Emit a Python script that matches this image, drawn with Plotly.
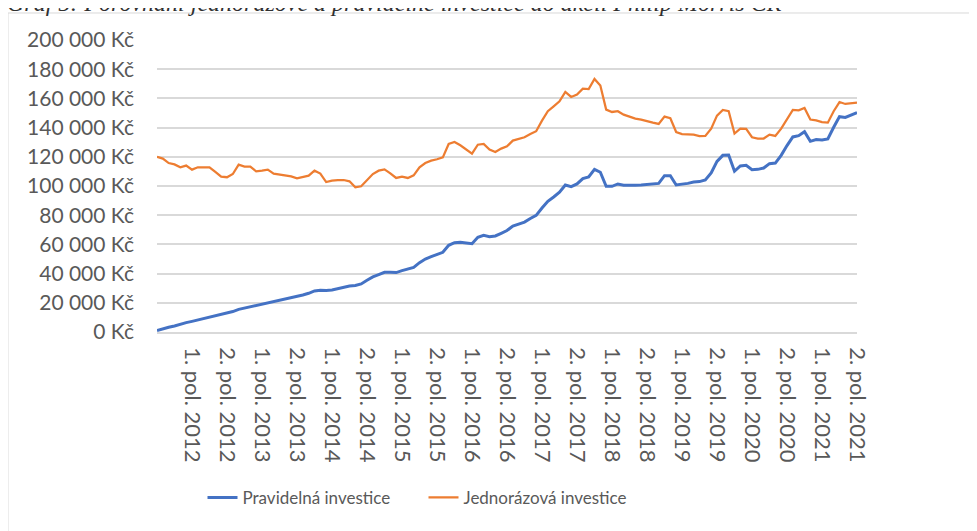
import plotly.graph_objects as go

# Half-year labels shown on the x axis (every 6th monthly point)
pololeti = [f"{h}. pol. {y}" for y in range(2012, 2022) for h in (1, 2)]

# Monthly portfolio value, Kč
pravidelna = [
    1000, 2300, 3200, 4100, 5500, 6400, 7300, 8200, 9400, 10300,
    11200, 11900, 12600, 14000, 15500, 16400, 17100, 18000, 19000, 19900,
    20500, 21500, 22400, 23300, 24000, 25300, 26500, 28100, 28600, 28400,
    28800, 29700, 30600, 31500, 31800, 32900, 35400, 37700, 39300, 40900,
    40900, 40700, 42000, 42900, 44300, 47500, 50000, 51600, 53000, 54600,
    59400, 61200, 61400, 60800, 60500, 64900, 66200, 65300, 65800, 67600,
    69500, 72600, 74000, 75300, 77700, 79900, 84900, 89500, 92500, 95700,
    100700, 99600, 101400, 105100, 106200, 111400, 109400, 99800, 99800, 101400,
    100500, 100300, 100500, 100700, 101200, 101400, 101800, 107100, 107100, 100700,
    101000, 101800, 102700, 103000, 104100, 108900, 116900, 121000, 121200, 110100,
    113700, 114200, 111200, 111400, 112300, 115300, 115700, 121000, 127700, 133600,
    134500, 137200, 130600, 131800, 131500, 132200, 140200, 147500, 147000, 148400,
    150300,
]

jednorazova = [
    120000, 118800, 115700, 114800, 112800, 114000, 111200, 112800, 112800, 112800,
    109600, 106400, 106000, 108200, 114600, 113300, 113300, 110000, 110500, 111200,
    108500, 107800, 107100, 106600, 105300, 106200, 107100, 110500, 108500, 102700,
    103700, 104100, 104100, 103200, 99100, 99800, 104100, 108200, 110500, 111400,
    108700, 105500, 106400, 105500, 107300, 112800, 115700, 117400, 118300, 119600,
    128800, 130100, 127900, 124900, 122200, 128300, 128800, 124900, 123300, 125600,
    127200, 131100, 132000, 133400, 135600, 137500, 144800, 151200, 154600, 158000,
    164400, 161000, 162600, 166700, 166400, 173300, 168800, 152300, 150700, 151200,
    148900, 147300, 146200, 145500, 144300, 143400, 142500, 147500, 146400, 137000,
    135600, 135200, 135200, 134200, 134300, 139300, 148200, 152100, 151200, 135900,
    139300, 139100, 133400, 132500, 132500, 135200, 134300, 139300, 146200, 152100,
    151800, 153400, 145500, 145000, 143800, 143400, 151200, 157500, 156200, 156600,
    157100,
]

y_ticks = list(range(0, 200001, 20000))
y_labels = [f"{v:,}".replace(",", " ") + " Kč" for v in y_ticks]

mesice = list(range(len(pravidelna)))
x_ticks = [6 * (i + 1) for i in range(len(pololeti))]

FONT = "Lato"
GREY = "#595959"

fig = go.Figure()

fig.add_trace(go.Scatter(
    x=mesice, y=pravidelna, mode="lines", name="Pravidelná investice",
    line=dict(color="#4472C4", width=3),
))
fig.add_trace(go.Scatter(
    x=mesice, y=jednorazova, mode="lines", name="Jednorázová investice",
    line=dict(color="#ED7D31", width=2.25),
))

# page has a ~7px body margin, so the figure is a bit smaller than the window
fig.update_layout(
    width=970, height=524,
    margin=dict(l=149, r=121, t=32, b=200, autoexpand=False),
    paper_bgcolor="white", plot_bgcolor="white",
    font=dict(family=FONT, color=GREY, size=18),
    showlegend=True,
    legend=dict(
        orientation="h", x=0.065, xanchor="left", y=-0.568, yanchor="middle",
        font=dict(size=17, color=GREY), entrywidth=176,
    ),
    xaxis=dict(
        range=[0, len(mesice) - 1], tickvals=x_ticks, ticktext=pololeti,
        tickangle=90, showgrid=False, zeroline=False, automargin=False,
        showline=True, linecolor="#d9d9d9", linewidth=1.5,
        ticks="", ticklabelstandoff=9, tickfont=dict(size=22, color=GREY),
    ),
    yaxis=dict(
        range=[0, 200000], tickvals=y_ticks, ticktext=y_labels,
        showgrid=True, gridcolor="#d9d9d9", gridwidth=1.5, zeroline=False,
        automargin=False,
        ticks="", ticklabelstandoff=22, tickfont=dict(size=21, color=GREY),
    ),
    shapes=[dict(
        type="rect", xref="paper", yref="paper",
        x0=-0.2129, x1=1.4, y0=-0.75, y1=1.0925,
        line=dict(color="#d9d9d9", width=1), fillcolor="rgba(0,0,0,0)",
        layer="below",
    )],
    annotations=[dict(
        text="Graf 5: Porovnání jednorázové a pravidelné investice do akcií Philip Morris ČR",
        xref="paper", yref="paper", x=-0.2172, y=1.128,
        xanchor="left", yanchor="middle", showarrow=False,
        font=dict(family="Liberation Serif", size=24, color="#303030"),
    )],
)

fig.update_annotations(font_style="italic")

fig.write_html("out.html")
